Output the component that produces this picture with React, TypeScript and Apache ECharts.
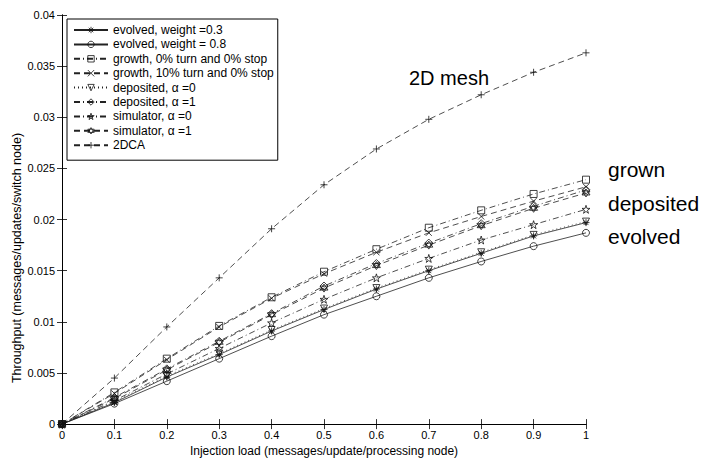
import React, { useEffect, useRef } from "react";
import * as echarts from "echarts";

const xValues = [0, 0.1, 0.2, 0.3, 0.4, 0.5, 0.6, 0.7, 0.8, 0.9, 1];
const evolved03 = [0, 0.0021, 0.0046, 0.0068, 0.0091, 0.0112, 0.0132, 0.015, 0.0167, 0.0184, 0.0197];
const evolved08 = [0, 0.002, 0.0042, 0.0064, 0.0086, 0.0107, 0.0125, 0.0143, 0.0159, 0.0174, 0.0187];
const growth0 = [0, 0.0031, 0.0064, 0.0096, 0.0124, 0.0149, 0.0171, 0.0192, 0.0209, 0.0225, 0.0239];
const growth10 = [0, 0.003, 0.0063, 0.0095, 0.0123, 0.0147, 0.0168, 0.0187, 0.0203, 0.0218, 0.0232];
const deposited0 = [0, 0.0022, 0.0047, 0.0069, 0.0092, 0.0113, 0.0133, 0.0151, 0.0168, 0.0185, 0.0198];
const deposited1 = [0, 0.0026, 0.0054, 0.0081, 0.0108, 0.0135, 0.0157, 0.0177, 0.0196, 0.0213, 0.0229];
const simulator0 = [0, 0.0023, 0.0049, 0.0074, 0.0099, 0.0122, 0.0143, 0.0162, 0.018, 0.0195, 0.021];
const simulator1 = [0, 0.0025, 0.0053, 0.008, 0.0107, 0.0133, 0.0155, 0.0175, 0.0194, 0.0211, 0.0226];
const dca2 = [0, 0.0045, 0.0095, 0.0143, 0.0191, 0.0234, 0.0269, 0.0298, 0.0322, 0.0344, 0.0363];

const seriesNames = [
  "evolved, weight =0.3",
  "evolved, weight = 0.8",
  "growth, 0% turn and 0% stop",
  "growth, 10% turn and 0% stop",
  "deposited, α =0",
  "deposited, α =1",
  "simulator, α =0",
  "simulator, α =1",
  "2DCA",
];
const annotations = ["2D mesh", "grown", "deposited", "evolved"];

const SYM = {
  asterisk: "path://M5,0L5,10M0,5L10,5M1.5,1.5L8.5,8.5M8.5,1.5L1.5,8.5",
  circle: "circle",
  square: "rect",
  cross: "path://M0,0L10,10M10,0L0,10",
  downTri: "path://M0,0L10,0L5,8.66Z",
  diamond: "diamond",
  star: "path://M5,0L6.123,3.455L9.755,3.455L6.817,5.59L7.939,9.045L5,6.91L2.061,9.045L3.183,5.59L0.245,3.455L3.877,3.455Z",
  hexagram: "path://M5,0L9.33,7.5L0.67,7.5ZM5,10L0.67,2.5L9.33,2.5Z",
  plus: "path://M0,5L10,5M5,0L5,10",
};

const SOLID = "solid";
const DASHED = [6, 4];
const DASHDOT = [6, 3, 1, 3];
const DOTTED = [1, 3];

export default function App() {
  const ref = useRef<HTMLDivElement>(null);
  useEffect(() => {
    if (!ref.current) return;
    const chart = echarts.init(ref.current, undefined, { renderer: "svg" });
    const font = "Liberation Sans";
    const defs: [string, number[], string, any, number][] = [
      [seriesNames[0], evolved03, SYM.asterisk, SOLID, 7],
      [seriesNames[1], evolved08, SYM.circle, SOLID, 7],
      [seriesNames[2], growth0, SYM.square, DASHDOT, 7],
      [seriesNames[3], growth10, SYM.cross, DASHED, 6],
      [seriesNames[4], deposited0, SYM.downTri, DOTTED, 7],
      [seriesNames[5], deposited1, SYM.diamond, DASHDOT, 8],
      [seriesNames[6], simulator0, SYM.star, DASHDOT, 8],
      [seriesNames[7], simulator1, SYM.hexagram, DASHED, 8],
      [seriesNames[8], dca2, SYM.plus, DASHED, 7],
    ];
    const series = defs.map(([name, vals, sym, type, size]) => ({
      name,
      type: "line",
      data: xValues.map((x, i) => [x, vals[i]]),
      symbol: sym,
      symbolSize: size,
      showSymbol: true,
      color: "#222",
      lineStyle: { color: "#222", width: 0.8, type },
      itemStyle: { color: "rgba(255,255,255,0)", borderColor: "#111", borderWidth: 0.8 },
      emphasis: { disabled: true },
      z: 3,
    }));
    const axisCommon = {
      axisLine: { show: true, lineStyle: { color: "#000", width: 1 } },
      axisTick: { show: true, inside: true, length: 5, lineStyle: { color: "#000", width: 0.8 } },
      splitLine: { show: false },
    };
    chart.setOption({
      animation: false,
      backgroundColor: "#fff",
      grid: { left: 62, right: 118, top: 15, bottom: 32, containLabel: false },
      legend: {
        orient: "vertical",
        left: 67,
        top: 19,
        data: seriesNames,
        itemWidth: 34,
        itemHeight: 8,
        itemGap: 2.4,
        padding: [5, 4, 9, 6],
        borderColor: "#000",
        borderWidth: 1,
        backgroundColor: "#fff",
        itemStyle: { color: "rgba(255,255,255,0)", borderColor: "#111", borderWidth: 0.8 },
        textStyle: { fontFamily: font, fontSize: 12, color: "#000" },
        selectedMode: false,
      },
      xAxis: [
        {
          type: "value",
          min: 0,
          max: 1,
          interval: 0.1,
          position: "bottom",
          name: "Injection load (messages/update/processing node)",
          nameLocation: "middle",
          nameGap: 17,
          nameTextStyle: { fontFamily: font, fontSize: 12, color: "#000" },
          axisLabel: { fontFamily: font, fontSize: 11, color: "#000", margin: 5 },
          ...axisCommon,
        },
        {
          type: "value",
          min: 0,
          max: 1,
          interval: 0.1,
          position: "top",
          axisLabel: { show: false },
          ...axisCommon,
        },
      ],
      yAxis: [
        {
          type: "value",
          min: 0,
          max: 0.04,
          interval: 0.005,
          position: "left",
          axisLabel: { fontFamily: font, fontSize: 11, color: "#000", margin: 7 },
          ...axisCommon,
        },
        {
          type: "value",
          min: 0,
          max: 0.04,
          interval: 0.005,
          position: "right",
          axisLabel: { show: false },
          ...axisCommon,
        },
      ],
      graphic: [
        {
          type: "text",
          x: 17,
          y: 258,
          rotation: Math.PI / 2,
          style: {
            text: "Throughput (messages/updates/switch node)",
            fontFamily: font,
            fontSize: 12.5,
            fill: "#000",
            align: "center",
            verticalAlign: "middle",
          },
        },
        {
          type: "text",
          x: 409,
          y: 78,
          style: { text: annotations[0], fontFamily: font, fontSize: 20, fill: "#000", align: "left", verticalAlign: "middle" },
        },
        {
          type: "text",
          x: 608,
          y: 169,
          style: { text: annotations[1], fontFamily: font, fontSize: 21, fill: "#000", align: "left", verticalAlign: "middle" },
        },
        {
          type: "text",
          x: 608,
          y: 203,
          style: { text: annotations[2], fontFamily: font, fontSize: 21, fill: "#000", align: "left", verticalAlign: "middle" },
        },
        {
          type: "text",
          x: 608,
          y: 236,
          style: { text: annotations[3], fontFamily: font, fontSize: 21, fill: "#000", align: "left", verticalAlign: "middle" },
        },
      ],
      series,
    });
    return () => chart.dispose();
  }, []);
  return <div ref={ref} style={{ width: 704, height: 462, position: "absolute", left: 0, top: 0 }} />;
}
